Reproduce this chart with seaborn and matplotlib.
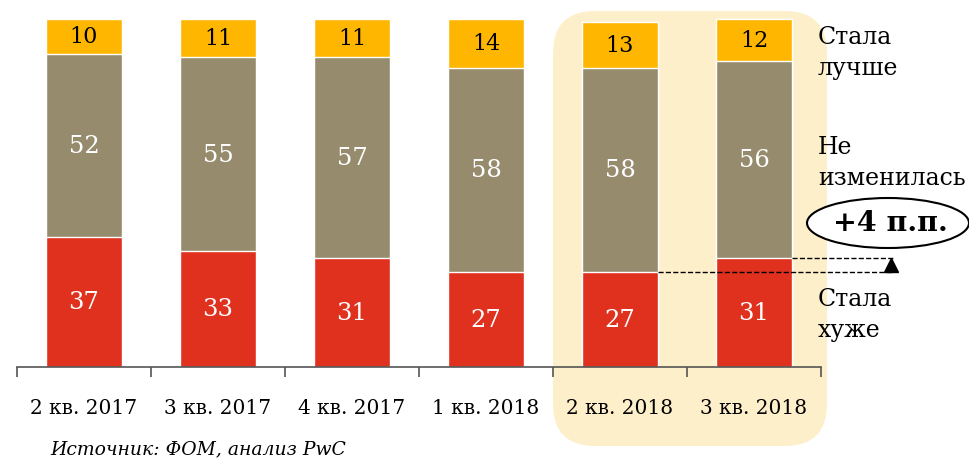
import matplotlib
matplotlib.use('Agg')
import matplotlib.pyplot as plt
import seaborn as sns
import numpy as np
from matplotlib.patches import FancyBboxPatch, Ellipse

# Data
quarters = ['2 кв. 2017', '3 кв. 2017', '4 кв. 2017', '1 кв. 2018', '2 кв. 2018', '3 кв. 2018']
worse = [37, 33, 31, 27, 27, 31]        # Стала хуже
same = [52, 55, 57, 58, 58, 56]         # Не изменилась
better = [10, 11, 11, 14, 13, 12]       # Стала лучше

RED = '#E0301E'
OLIVE = '#968C6D'
ORANGE = '#FFB600'
HIGHLIGHT = '#FEEFCB'

sns.set_theme(style='white')
plt.rcParams['font.family'] = ['DejaVu Serif', 'DejaVu Sans']
plt.rcParams['text.color'] = 'black'
plt.rcParams['xtick.labelcolor'] = 'black'

fig = plt.figure(figsize=(9.7, 4.64), dpi=100)
ax = fig.add_axes([17 / 970, 96 / 464, 804 / 970, 352 / 464])
ax.patch.set_alpha(0)

# highlight box behind the last two quarters (figure inches)
hl = FancyBboxPatch((5.53, 0.17), 2.74, 4.35, boxstyle='round,pad=0,rounding_size=0.42',
                    transform=fig.dpi_scale_trans, facecolor=HIGHLIGHT, edgecolor='none', zorder=-5)
fig.patches.append(hl)

worse_arr = np.array(worse)
mid_top = worse_arr + np.array(same)
total = mid_top + np.array(better)

# stack by overdrawing cumulative totals
bw = 0.56
sns.barplot(x=quarters, y=total, order=quarters, color=ORANGE, width=bw,
            edgecolor='white', linewidth=1, saturation=1, ax=ax)
sns.barplot(x=quarters, y=mid_top, order=quarters, color=OLIVE, width=bw,
            edgecolor='white', linewidth=1, saturation=1, ax=ax)
sns.barplot(x=quarters, y=worse_arr, order=quarters, color=RED, width=bw,
            edgecolor='white', linewidth=1, saturation=1, ax=ax)

for i in range(len(quarters)):
    ax.text(i, worse[i] / 2, str(worse[i]), ha='center', va='center', color='white', fontsize=17.5)
    ax.text(i, worse[i] + same[i] / 2, str(same[i]), ha='center', va='center', color='white', fontsize=17.5)
    ax.text(i, mid_top[i] + better[i] / 2, str(better[i]), ha='center', va='center',
            color='black', fontsize=16)

ax.set_xlim(-0.5, len(quarters) - 0.5)
ax.set_ylim(0, 100)
ax.set_xlabel('')
ax.set_ylabel('')
ax.set_yticks([])
for s in ['top', 'right', 'left']:
    ax.spines[s].set_visible(False)
ax.spines['bottom'].set_color('#555555')
ax.spines['bottom'].set_linewidth(1.2)

# ticks at category boundaries, labels centered
ax.set_xticks(np.arange(-0.5, len(quarters), 1.0))
ax.set_xticklabels([])
ax.set_xticks(np.arange(len(quarters)), minor=True)
ax.set_xticklabels(quarters, minor=True, fontsize=14.5)
ax.tick_params(axis='x', which='major', length=7, width=1.2, color='#555555', direction='out', bottom=True)
ax.tick_params(axis='x', which='minor', length=0, pad=22)

# right-hand legend labels
fig.text(818 / 970, 1 - 53 / 464, 'Стала\nлучше', ha='left', va='center', fontsize=17, linespacing=1.4)
fig.text(818 / 970, 1 - 163 / 464, 'Не\nизменилась', ha='left', va='center', fontsize=17, linespacing=1.4)
fig.text(818 / 970, 1 - 315 / 464, 'Стала\nхуже', ha='left', va='center', fontsize=17, linespacing=1.4)

# +4 п.п. annotation
ell = Ellipse((8.88, 2.40), 1.62, 0.5, transform=fig.dpi_scale_trans,
              facecolor='white', edgecolor='black', linewidth=1.5, zorder=3)
fig.patches.append(ell)
fig.text(8.90 / 9.7, 2.40 / 4.64, '+4 п.п.', ha='center', va='center', fontsize=20.5,
         fontweight='bold', zorder=4)

x_end = 6.04
ax.plot([4 + bw / 2, x_end], [worse[4], worse[4]], ls='--', color='black', lw=1, clip_on=False)
ax.plot([5 + bw / 2, x_end], [worse[5], worse[5]], ls='--', color='black', lw=1, clip_on=False)
ax.plot([x_end - 0.02], [(worse[4] + worse[5]) / 2], marker='^', color='black', markersize=10, clip_on=False)

fig.text(50 / 970, 1 - 449 / 464, 'Источник: ФОМ, анализ PwC', ha='left', va='center',
         fontsize=13.5, style='italic')

fig.savefig('out.png', dpi=100)
